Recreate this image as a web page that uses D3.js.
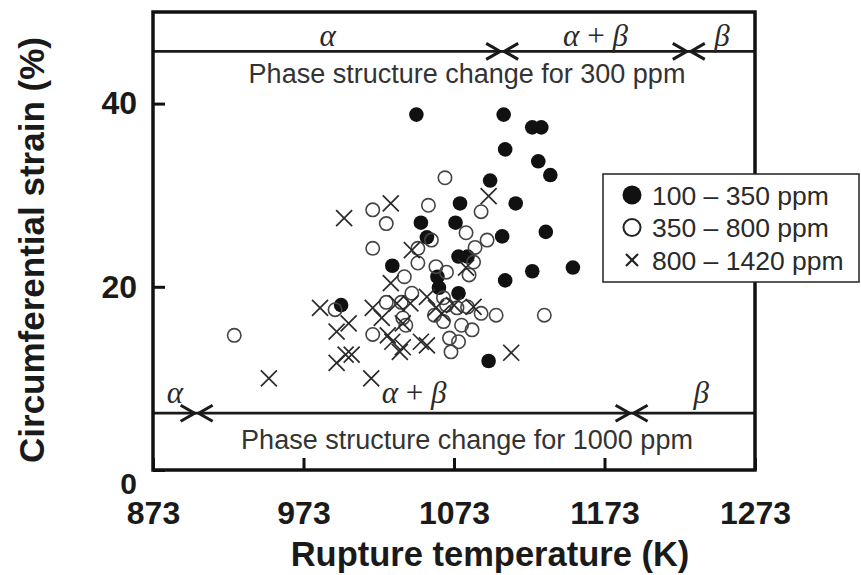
<!DOCTYPE html>
<html>
<head>
<meta charset="utf-8">
<script src="https://cdn.jsdelivr.net/npm/d3@7"></script>
<style>
  body { margin: 0; background: #fff; }
  svg { display: block; font-family: "Liberation Sans", Arial, Helvetica, sans-serif; }
</style>
</head>
<body>
<div id="vis-container"></div>
<script>
(() => {

    ////////////////////////////////////
    ////////////// Data ////////////////
    ////////////////////////////////////

    const tempTicks = [873, 973, 1073, 1173, 1273]
    const strainTicks = [0, 20, 40]

    // [rupture temperature (K), circumferential strain (%)]
    const ppm100to350 = [
        [1048, 38.8], [1106, 38.8], [1125, 37.4], [1131, 37.4], [1107, 35.0],
        [1129, 33.7], [1137, 32.2], [1097, 31.6], [1077, 29.1], [1114, 29.1],
        [1051, 27.0], [1074, 27.0], [1055, 25.4], [1105, 25.5], [1134, 26.0],
        [1032, 22.3], [1076, 23.3], [1082, 23.3], [1062, 21.1], [1063, 19.9],
        [1076, 19.3], [1107, 20.7], [1125, 21.7], [1152, 22.1], [1096, 11.9],
        [998, 18.0]
    ]

    const ppm350to800 = [
        [1019, 28.4], [1028, 26.9], [1019, 24.2], [994, 17.5], [927, 14.7],
        [1019, 14.8], [1028, 18.3], [1067, 31.9], [1056, 28.9], [1091, 28.2],
        [1081, 25.9], [1087, 24.3], [1095, 25.1], [1133, 16.9], [1101, 16.9],
        [1058, 25.1], [1049, 24.2], [1049, 22.6], [1061, 22.2], [1068, 21.6],
        [1086, 22.7], [1083, 21.3], [1040, 21.1], [1045, 19.3], [1038, 18.3],
        [1066, 18.8], [1068, 18.0], [1075, 17.7], [1082, 17.8], [1091, 17.1],
        [1060, 16.9], [1066, 16.2], [1039, 16.6], [1078, 15.8], [1085, 15.3],
        [1070, 14.4], [1076, 14.0], [1071, 12.9], [1041, 15.8]
    ]

    const ppm800to1420 = [
        [1000, 27.5], [1031, 29.1], [1096, 29.9], [1045, 24.0], [1081, 22.1],
        [984, 17.7], [1019, 17.7], [1003, 16.0], [995, 15.1], [1005, 12.6],
        [1001, 12.6], [995, 11.7], [950, 10.0], [1018, 10.0], [1031, 20.4],
        [1035, 18.2], [1044, 18.2], [1055, 18.9], [1061, 17.7], [1065, 17.1],
        [1073, 18.0], [1086, 17.8], [1029, 14.7], [1032, 14.0], [1039, 13.4],
        [1051, 14.0], [1055, 13.6], [1037, 12.9], [1039, 16.0], [1025, 16.6],
        [1111, 12.8]
    ]

    const legendLabels = ['100 \u2013 350 ppm', '350 \u2013 800 ppm', '800 \u2013 1420 ppm']

    // phase boundaries (K): alpha | alpha+beta, alpha+beta | beta
    const phase300 = [1105, 1229]
    const phase1000 = [902, 1191]

    ////////////////////////////////////
    ///////////// SVG Setup ////////////
    ////////////////////////////////////

    const margin = { left: 153, right: 106, top: 12, bottom: 105 }
    const svgWidth = 861
    const svgHeight = 575
    const width = svgWidth - margin.left - margin.right
    const height = svgHeight - margin.top - margin.bottom

    const root = d3.select('#vis-container')
        .append('svg')
        .attr('width', svgWidth)
        .attr('height', svgHeight)

    const svg = root.append('g')
        .attr('transform', 'translate(' + margin.left + ',' + margin.top + ')')

    ////////////////////////////////////
    /////////////// Scales /////////////
    ////////////////////////////////////

    const xScale = d3.scaleLinear().domain([873, 1273]).range([0, width])
    const yScale = d3.scaleLinear().domain([0, 50]).range([height, 0])

    ////////////////////////////////////
    ////////////// Axis ////////////////
    ////////////////////////////////////

    const xAxis = d3.axisBottom(xScale)
        .tickValues(tempTicks)
        .tickFormat(d3.format('d'))
        .tickSizeInner(-12)
        .tickSizeOuter(0)
        .tickPadding(31)

    const yAxis = d3.axisLeft(yScale)
        .tickValues(strainTicks)
        .tickSizeInner(-12)
        .tickSizeOuter(0)
        .tickPadding(16)

    const gx = svg.append('g')
        .attr('transform', 'translate(0,' + height + ')')
        .call(xAxis)

    const gy = svg.append('g').call(yAxis)

    for (const g of [gx, gy]) {
        g.select('.domain').remove()
        g.selectAll('.tick line').attr('stroke', '#111').attr('stroke-width', 3)
        g.selectAll('.tick text')
            .attr('fill', '#1a1a1a')
            .style('font-size', '32px')
            .style('font-weight', 'bold')
            .style('font-family', '"Liberation Sans", Arial, sans-serif')
    }
    // the zero label sits a little below the corner
    gy.selectAll('.tick').filter(d => d === 0).select('text')
        .attr('dy', '0.78em')
        .style('font-size', '30px')

    // axis titles
    root.append('text')
        .attr('x', margin.left + width / 2 + 36)
        .attr('y', 566)
        .attr('text-anchor', 'middle')
        .attr('fill', '#1a1a1a')
        .style('font-size', '34.5px')
        .style('font-weight', 'bold')
        .text('Rupture temperature (K)')

    root.append('text')
        .attr('transform', 'translate(44,' + (margin.top + 238) + ') rotate(-90)')
        .attr('text-anchor', 'middle')
        .attr('fill', '#1a1a1a')
        .style('font-size', '35px')
        .style('font-weight', 'bold')
        .text('Circumferential strain (%)')

    ////////////////////////////////////
    ///////////// Points ///////////////
    ////////////////////////////////////

    const r = 7.3
    const xs = 8

    svg.selectAll('.filled')
        .data(ppm100to350)
        .join('circle')
        .attr('class', 'filled')
        .attr('cx', d => xScale(d[0]))
        .attr('cy', d => yScale(d[1]))
        .attr('r', r)
        .attr('fill', '#111')

    svg.selectAll('.open')
        .data(ppm350to800)
        .join('circle')
        .attr('class', 'open')
        .attr('cx', d => xScale(d[0]))
        .attr('cy', d => yScale(d[1]))
        .attr('r', r - 0.6)
        .attr('fill', 'none')
        .attr('stroke', '#444')
        .attr('stroke-width', 1.6)

    svg.selectAll('.cross')
        .data(ppm800to1420)
        .join('path')
        .attr('class', 'cross')
        .attr('d', d => {
            const cx = xScale(d[0]), cy = yScale(d[1])
            return `M${cx - xs},${cy - xs}L${cx + xs},${cy + xs}M${cx - xs},${cy + xs}L${cx + xs},${cy - xs}`
        })
        .attr('stroke', '#2a2a2a')
        .attr('stroke-width', 1.7)
        .attr('fill', 'none')

    ////////////////////////////////////
    ////////// Phase bands /////////////
    ////////////////////////////////////

    function chevron(tip, y, dir) {
        // dir = 1 points right, -1 points left
        return `M${tip - dir * 14},${y - 8}L${tip},${y}L${tip - dir * 14},${y + 8}`
    }

    function phaseBand(bounds, lineY, labelY, captionY, caption, betaShift) {
        const y = yScale(lineY)
        svg.append('line')
            .attr('x1', 0).attr('x2', width)
            .attr('y1', y).attr('y2', y)
            .attr('stroke', '#1a1a1a')
            .attr('stroke-width', 2.8)

        bounds.forEach(b => {
            svg.append('path').attr('d', chevron(xScale(b) - 2, y, 1))
                .attr('fill', 'none').attr('stroke', '#1a1a1a').attr('stroke-width', 3)
            svg.append('path').attr('d', chevron(xScale(b) + 2, y, -1))
                .attr('fill', 'none').attr('stroke', '#1a1a1a').attr('stroke-width', 3)
        })

        const edges = [873, bounds[0], bounds[1], 1273]
        const labels = [['\u03b1'], ['\u03b1', ' + ', '\u03b2'], ['\u03b2']]
        labels.forEach((parts, i) => {
            const t = svg.append('text')
                .attr('x', xScale((edges[i] + edges[i + 1]) / 2) + (i === 2 ? betaShift : 0))
                .attr('y', yScale(labelY))
                .attr('text-anchor', 'middle')
                .attr('fill', '#2a2a2a')
                .style('font-family', '"Liberation Serif", "Times New Roman", serif')
                .style('font-size', '31px')
            parts.forEach(p => {
                t.append('tspan')
                    .style('font-style', p.trim() === '+' ? 'normal' : 'italic')
                    .text(p)
            })
        })

        svg.append('text')
            .attr('x', xScale(1073) + 13)
            .attr('y', yScale(captionY))
            .attr('text-anchor', 'middle')
            .attr('fill', '#333')
            .style('font-size', '27px')
            .text(caption)
    }

    phaseBand(phase300, 45.7, 46.3, 42.2, 'Phase structure change for 300 ppm', 0)
    phaseBand(phase1000, 6.2, 7.3, 2.3, 'Phase structure change for 1000 ppm', 8)

    ////////////////////////////////////
    ////////////// Frame ///////////////
    ////////////////////////////////////

    svg.append('rect')
        .attr('x', 0).attr('y', 0)
        .attr('width', width).attr('height', height)
        .attr('fill', 'none')
        .attr('stroke', '#111')
        .attr('stroke-width', 3.5)

    ////////////////////////////////////
    ///////////// Legend ///////////////
    ////////////////////////////////////

    const legend = root.append('g').attr('transform', 'translate(603,174)')

    legend.append('rect')
        .attr('width', 256).attr('height', 108)
        .attr('fill', '#fff')
        .attr('stroke', '#222')
        .attr('stroke-width', 1.5)

    const rowY = i => 21 + i * 32.5

    legend.append('circle').attr('cx', 29).attr('cy', rowY(0)).attr('r', 9.5).attr('fill', '#111')
    legend.append('circle').attr('cx', 29).attr('cy', rowY(1)).attr('r', 8.5)
        .attr('fill', 'none').attr('stroke', '#222').attr('stroke-width', 2)
    legend.append('path')
        .attr('d', `M23,${rowY(2) - 6}L35,${rowY(2) + 6}M23,${rowY(2) + 6}L35,${rowY(2) - 6}`)
        .attr('stroke', '#222').attr('stroke-width', 2.2)

    legend.selectAll('.lab')
        .data(legendLabels)
        .join('text')
        .attr('class', 'lab')
        .attr('x', 49)
        .attr('y', (d, i) => rowY(i) + 9.5)
        .attr('fill', '#2a2a2a')
        .style('font-size', '26.5px')
        .text(d => d)

})()
</script>
</body>
</html>
